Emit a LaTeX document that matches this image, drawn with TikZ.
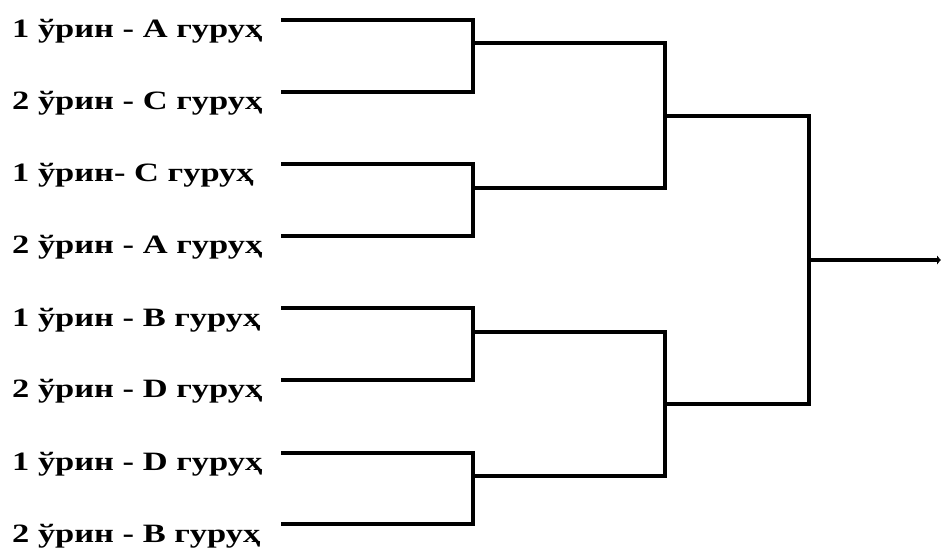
\documentclass[tikz,border=0pt]{standalone}
\usepackage{fontspec}
\setmainfont[FakeStretch=1.3]{Liberation Serif}
\usetikzlibrary{arrows.meta}
\begin{document}
\begin{tikzpicture}[x=1pt,y=-1pt,
  br/.style={line width=3.3pt,line join=miter,line cap=rect},
  lbl/.style={anchor=base west,inner sep=0pt,font=\fontsize{26.5}{30}\selectfont\bfseries}]
\useasboundingbox (0,0) rectangle (941,554);
% labels
\node[lbl] (l1) at (12,37) {1 ўрин - А гуруҳ};
\node[lbl] (l2) at (12,109) {2 ўрин - С гуруҳ};
\node[lbl] (l3) at (12,181) {1 ўрин- С гуруҳ};
\node[lbl] (l4) at (12,253) {2 ўрин - А гуруҳ};
\node[lbl] (l5) at (12,326) {1 ўрин - В гуруҳ};
\node[lbl] (l6) at (12,397) {2 ўрин - D гуруҳ};
\node[lbl] (l7) at (12,470) {1 ўрин - D гуруҳ};
\node[lbl] (l8) at (12,542) {2 ўрин - В гуруҳ};
% line starts
\coordinate (s1) at (283,20);
\coordinate (s2) at (283,92);
\coordinate (s3) at (283,164);
\coordinate (s4) at (283,236);
\coordinate (s5) at (283,308);
\coordinate (s6) at (283,380);
\coordinate (s7) at (283,453);
\coordinate (s8) at (283,524);
% round 1 joints
\coordinate (j1) at (473,43);
\coordinate (j2) at (473,188);
\coordinate (j3) at (473,332);
\coordinate (j4) at (473,476);
% round 2 joints
\coordinate (k1) at (665,116);
\coordinate (k2) at (665,404);
% final
\coordinate (f) at (809,260);
\coordinate (e) at (941,260);
% round 1 brackets
\draw[br] (s1) -| (j1) |- (s2);
\draw[br] (s3) -| (j2) |- (s4);
\draw[br] (s5) -| (j3) |- (s6);
\draw[br] (s7) -| (j4) |- (s8);
% round 2 brackets
\draw[br] (j1) -| (k1) |- (j2);
\draw[br] (j3) -| (k2) |- (j4);
% round 3
\draw[br] (k1) -| (f) |- (k2);
\draw[line width=3.3pt,-{Latex[length=4pt,width=10pt]}] (f) -- (e);
\end{tikzpicture}
\end{document}
